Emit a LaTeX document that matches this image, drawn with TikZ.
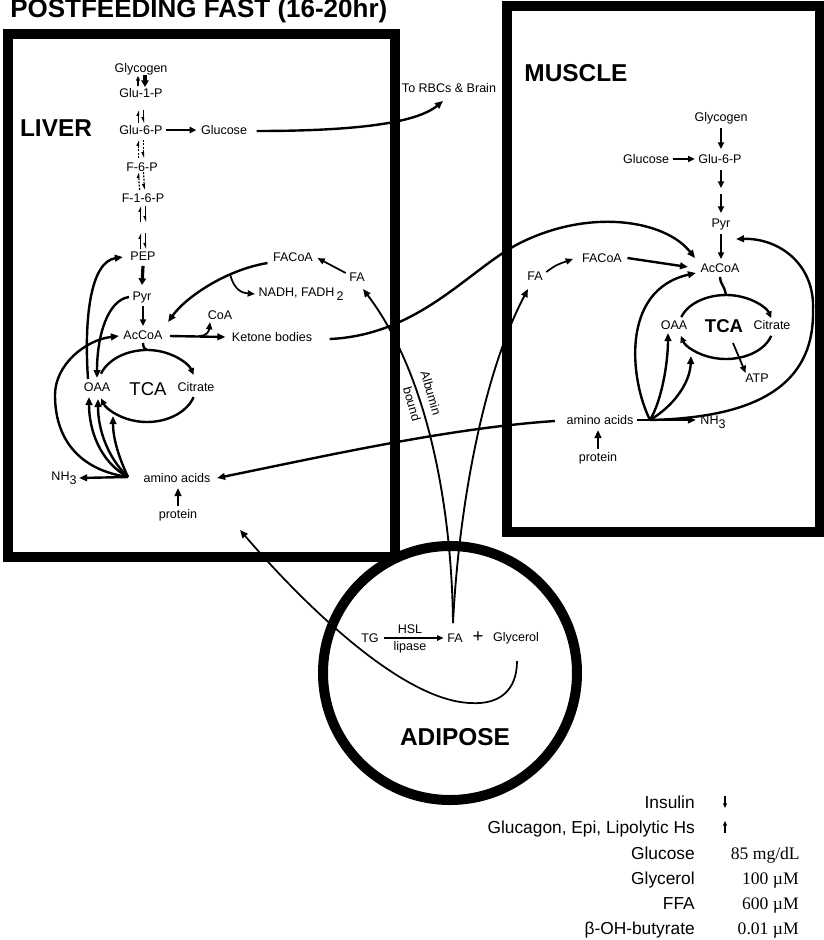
\documentclass[tikz,border=0pt]{standalone}
\usepackage{fontspec}
\setmainfont{Liberation Sans}
\newfontfamily\valfont{Liberation Serif}
\usetikzlibrary{arrows.meta,calc}
\begin{document}
\begin{tikzpicture}[x=0.75pt,y=-0.75pt,
  lbl/.style={font=\fontsize{9.4}{11}\selectfont, inner sep=1pt},
  organlbl/.style={font=\fontsize{18.3}{20}\selectfont\bfseries, inner sep=0pt},
  tcalbl/.style={font=\fontsize{13.9}{15}\selectfont, inner sep=0pt},
  leg/.style={font=\fontsize{13}{15}\selectfont, anchor=base east, inner sep=0pt},
  val/.style={font=\valfont\fontsize{13.2}{15}\selectfont, anchor=base east, inner sep=0pt},
  organ/.style={line width=7.5pt},
  conn/.style={line width=1.8pt,-{Triangle[length=6pt,width=5pt]}},
  slim/.style={line width=1.3pt,-{Triangle[length=5.5pt,width=4.5pt]}},
  sarr/.style={line width=1.6pt,-{Triangle[length=5pt,width=4.5pt]}},
  bolddown/.style={line width=2.4pt,-{Triangle[length=5pt,width=5.5pt]}},
  hup/.style={line width=0.9pt,-{Triangle[harpoon,length=3.5pt,width=3.2pt]}},
  hdown/.style={line width=0.9pt,-{Triangle[harpoon,swap,length=3.5pt,width=3.2pt]}},
  dsh/.style={dash pattern=on 1.5pt off 1pt},
  legarr/.style={line width=0.8pt,-{Triangle[length=3.5pt,width=3pt]}},
  tcaarc/.style={line width=1.8pt,-{Triangle[length=5pt,width=4.5pt]}},
]
\useasboundingbox (0,0) rectangle (824,940);
\fill[white] (0,0) rectangle (824,940);

% title
\node[anchor=base west, font=\fontsize{19.5}{21}\selectfont\bfseries, inner sep=0pt] (title) at (10,17.5) {POSTFEEDING FAST (16-20hr)};

% organs
\draw[organ] (8,34) rectangle (395,557);
\draw[organ] (507,6) rectangle (820,532);
\draw[organ] (450,673) circle[radius=127];

% ---------- LIVER labels
\node[organlbl] (liver) at (56,128) {LIVER};
\node[lbl] (glycogen) at (141,69) {Glycogen};
\node[lbl] (glu1) at (141,93) {Glu-1-P};
\node[lbl] (glu6) at (141,130) {Glu-6-P};
\node[lbl] (lglc) at (224,130) {Glucose};
\node[lbl] (f6p) at (142,167) {F-6-P};
\node[lbl] (f16p) at (143,198) {F-1-6-P};
\node[lbl] (pep) at (143,256) {PEP};
\node[lbl] (lpyr) at (142,297) {Pyr};
\node[lbl] (lacoa) at (143,335) {AcCoA};
\node[lbl] (facoa) at (293,257) {FACoA};
\node[lbl] (lfa) at (357,277) {FA};
\node[lbl,anchor=west] (nadh) at (257,294) {NADH, FADH\,\raisebox{-3pt}{2}};
\node[lbl] (coa) at (220,315) {CoA};
\node[lbl] (ketone) at (272,337) {Ketone bodies};
\node[lbl] (loaa) at (97,387) {OAA};
\node[tcalbl] (ltca) at (148,389) {TCA};
\node[lbl] (lcit) at (196,387) {Citrate};
\node[lbl] (lnh3) at (64,478) {NH\raisebox{-3pt}{3}};
\node[lbl] (laa) at (177,478) {amino acids};
\node[lbl] (lprot) at (178,515) {protein};
\node[lbl] (rbc) at (449,88) {To RBCs \& Brain};

% ---------- MUSCLE labels
\node[organlbl] (muscle) at (576,73) {MUSCLE};
\node[lbl] (mglycogen) at (721,118) {Glycogen};
\node[lbl] (mglu6) at (720,159) {Glu-6-P};
\node[lbl] (mglc) at (646,159) {Glucose};
\node[lbl] (mpyr) at (721,224) {Pyr};
\node[lbl] (macoa) at (720,268) {AcCoA};
\node[lbl] (mfacoa) at (602,258) {FACoA};
\node[lbl] (mfa) at (535,276) {FA};
\node[lbl] (moaa) at (674,325) {OAA};
\node[tcalbl,font=\fontsize{13.9}{15}\selectfont\bfseries] (mtca) at (724,326) {TCA};
\node[lbl] (mcit) at (772,325) {Citrate};
\node[lbl] (atp) at (757,378) {ATP};
\node[lbl] (maa) at (600,420) {amino acids};
\node[lbl] (mprot) at (598,458) {protein};
\node[lbl] (mnh3) at (713,422) {NH\raisebox{-3pt}{3}};

% ---------- ADIPOSE labels
\node[lbl] (tg) at (370,638) {TG};
\node[lbl] (hsl) at (410,629) {HSL};
\node[lbl] (lipase) at (410,647) {lipase};
\node[lbl] (afa) at (455,638) {FA};
\node[font=\fontsize{14}{15}\selectfont, inner sep=0pt] (plus) at (478,637) {+};
\node[lbl] (glycerol) at (516,638) {Glycerol};
\node[organlbl] (adipose) at (455,737) {ADIPOSE};
\node[lbl, inner sep=0pt, rotate=-74] (albA) at (431,393) {Albumin};
\node[lbl, inner sep=0pt, rotate=-74] (albB) at (412,404) {bound};

% ---------- coordinates
\coordinate (rbcTip) at (443,101);
\coordinate (lJ) at (128,477);
\coordinate (mJ) at (650,420);
\coordinate (afaTop) at (453,623);
\coordinate (lfaIn) at (363,289);
\coordinate (mfaIn) at (528,289);
\coordinate (glyB) at (517,661);
\coordinate (glyTip) at (240,530);
\coordinate (kbM) at (520,243);
\coordinate (nb) at (230,274);
\coordinate (lT) at (147,386);
\coordinate (mT) at (726,327);
\coordinate (f16pep) at (143,228);

% ---------- liver vertical pathway
\draw[legarr] ($(glycogen)+(-3,17)$) -- ($(glycogen)+(-3,7)$);
\draw[bolddown] ($(glycogen)+(4,6)$) -- ($(glu1)+(4,-6)$);
\draw[hup] ($(glu6)+(-2.5,-7)$) -- ($(glu1)+(-2.5,17)$);
\draw[hdown] ($(glu1)+(2.5,17)$) -- ($(glu6)+(2.5,-7)$);
\draw[hup,dsh] ($(f6p)+(-3.5,-9)$) -- ($(glu6)+(-2.5,10)$);
\draw[hdown,dsh] ($(glu6)+(2.5,10)$) -- ($(f6p)+(1.5,-9)$);
\draw[hup,dsh] ($(f16p)+(-3.5,-8)$) -- ($(f6p)+(-3.5,5)$);
\draw[hdown,dsh] ($(f6p)+(1.5,5)$) -- ($(f16p)+(1.5,-8)$);
\draw[hup] ($(f16pep)+(-2.5,-6)$) -- ($(f16p)+(-2.5,8)$);
\draw[hdown] ($(f16p)+(2.5,8)$) -- ($(f16pep)+(2.5,-6)$);
\draw[hup] ($(pep)+(-2.5,-7)$) -- ($(f16pep)+(-2.5,5)$);
\draw[hdown] ($(f16pep)+(2.5,5)$) -- ($(pep)+(2.5,-7)$);
\draw[bolddown] ($(pep)+(0,10)$) -- ($(lpyr)+(0,-12)$);
\draw[sarr] ($(lpyr)+(1,9)$) -- ($(lacoa)+(0,-9)$);
\draw[sarr] ($(glu6.east)+(2,0)$) -- ($(lglc.west)+(-3,0)$);

% liver glucose out
\draw[conn] ($(lglc.east)+(8,1)$) .. controls (350,131) and (415,124) .. (rbcTip);

% liver fatty acid oxidation
\draw[slim] ($(lfa.west)+(-2,-4)$) -- ($(facoa.east)+(3,1)$);
\draw[conn] ($(facoa.west)+(-4,6)$) .. controls (225,270) and (185,298) .. ($(lacoa.east)+(4,-13)$);
\draw[slim] (nb) .. controls (234,290) and (242,293) .. ($(nadh.west)+(-2,0)$);
\draw[conn] ($(lacoa.east)+(6,1)$) -- ($(ketone.west)+(-5,0)$);
\draw[slim] (199,336) .. controls (207,336) and (209,331) .. ($(coa.south)+(-10,1)$);

% liver TCA
\draw[tcaarc] ($(lT)+(200:49 and 36)$) arc[start angle=200,end angle=342,x radius=49,y radius=36];
\draw[tcaarc] ($(lT)+(18:49 and 36)$) arc[start angle=18,end angle=160,x radius=49,y radius=36];
\draw[line width=1.8pt] ($(lacoa)+(0,8)$) .. controls ($(lacoa)+(0,14)$) and ($(lacoa)+(3,14)$) .. (147,350);
\draw[conn] ($(lpyr.west)+(-2,0)$) .. controls (108,300) and (97,335) .. (97,378);
\draw[conn] (88,379) .. controls (84,320) and (90,262) .. ($(pep.west)+(-6,1)$);
\draw[conn] (lJ) .. controls (80,470) and (55,440) .. (55,395) .. controls (55,365) and (85,340) .. ($(lacoa.west)+(-3,1)$);
\draw[conn] (lJ) .. controls (100,462) and (89,430) .. (89,397);
\draw[conn] (lJ) .. controls (108,458) and (98,430) .. (98,399);
\draw[conn] (lJ) .. controls (120,460) and (113,440) .. (113,416);
\draw[conn] (lJ) -- ($(lnh3.east)+(1,0)$);
\draw[conn] ($(lprot)+(0,-9)$) -- ($(laa)+(1,10)$);

% ketone bodies to muscle
\draw[conn] ($(ketone.east)+(16,2)$) .. controls (420,335) and (470,268) .. (kbM) .. controls (590,208) and (665,220) .. (695,258);

% ---------- MUSCLE pathway
\draw[sarr] ($(mglycogen)+(0,10)$) -- ($(mglu6)+(1,-10)$);
\draw[sarr] ($(mglc.east)+(2,0)$) -- ($(mglu6.west)+(-2,0)$);
\draw[sarr] ($(mglu6)+(1,11)$) -- ($(mglu6)+(1,29)$);
\draw[sarr] ($(mglu6)+(1,35)$) -- ($(mglu6)+(1,54)$);
\draw[sarr] ($(mpyr)+(0,10)$) -- ($(macoa)+(1,-9)$);
\draw[slim] ($(mfa.east)+(2,-4)$) .. controls (556,265) .. (573,259);
\draw[conn] ($(mfacoa.east)+(4,0)$) -- (688,267);
\draw[tcaarc] ($(mT)+(198:47 and 32)$) arc[start angle=198,end angle=344,x radius=47,y radius=32];
\draw[tcaarc] ($(mT)+(16:47 and 32)$) arc[start angle=16,end angle=164,x radius=47,y radius=32];
\draw[line width=1.8pt] ($(macoa)+(0,9)$) .. controls ($(macoa)+(0,16)$) and ($(macoa)+(4,16)$) .. (726,295);
\draw[slim] (733,343) -- ($(atp.north west)+(2,1)$);
\draw[conn] (mJ) .. controls (630,380) and (620,290) .. ($(macoa.west)+(-3,5)$);
\draw[conn] (mJ) .. controls (662,400) and (668,362) .. (668,333);
\draw[conn] (mJ) .. controls (675,405) and (690,382) .. (691,356);
\draw[conn] (mJ) .. controls (730,418) and (815,400) .. (813,310) .. controls (815,265) and (780,238) .. ($(mpyr.east)+(4,15)$);
\draw[conn] (mJ) -- ($(mnh3.west)+(-3,-2)$);
\draw[line width=1.6pt] ($(maa.east)+(2,0)$) -- (mJ);
\draw[conn] ($(mprot)+(0,-9)$) -- ($(maa)+(-2,10)$);

% muscle amino acids to liver
\draw[conn] ($(maa.west)+(-10,1)$) .. controls (450,428) and (330,455) .. ($(laa.east)+(5,0)$);

% ---------- ADIPOSE
\draw[line width=1.3pt,-{Triangle[length=5pt,width=4pt]}] ($(tg.east)+(4,0)$) -- ($(afa.west)+(-2,0)$);
\draw[line width=1.4pt,-{Triangle[length=6pt,width=5pt]}] (afaTop) .. controls (452,520) and (432,380) .. (lfaIn);
\draw[line width=1.4pt,-{Triangle[length=6pt,width=5pt]}] (afaTop) .. controls (458,520) and (480,380) .. (mfaIn);
\draw[line width=1.3pt,-{Triangle[length=6pt,width=5pt]}] (glyB) .. controls (517,690) and (500,705) .. (470,703) .. controls (400,700) and (300,600) .. (glyTip);

% ---------- legend
\node[leg] (lgIns) at (695,808) {Insulin};
\node[leg] (lgGlu) at (695,833) {Glucagon, Epi, Lipolytic Hs};
\node[leg] (lgGlc) at (695,859) {Glucose};
\node[leg] (lgGly) at (695,884) {Glycerol};
\node[leg] (lgFFA) at (695,909) {FFA};
\node[leg] (lgBOH) at (695,934) {β-OH-butyrate};
\coordinate (insA) at (725,796);
\coordinate (insB) at (725,808);
\coordinate (gluA) at (725,833);
\coordinate (gluB) at (725,821);
\draw[legarr] (insA) -- (insB);
\draw[legarr] (gluA) -- (gluB);
\node[val] (vGlc) at (800,859) {85 mg/dL};
\node[val] (vGly) at (799,884) {100 µM};
\node[val] (vFFA) at (799,909) {600 µM};
\node[val] (vBOH) at (799,934) {0.01 µM};
\end{tikzpicture}
\end{document}
